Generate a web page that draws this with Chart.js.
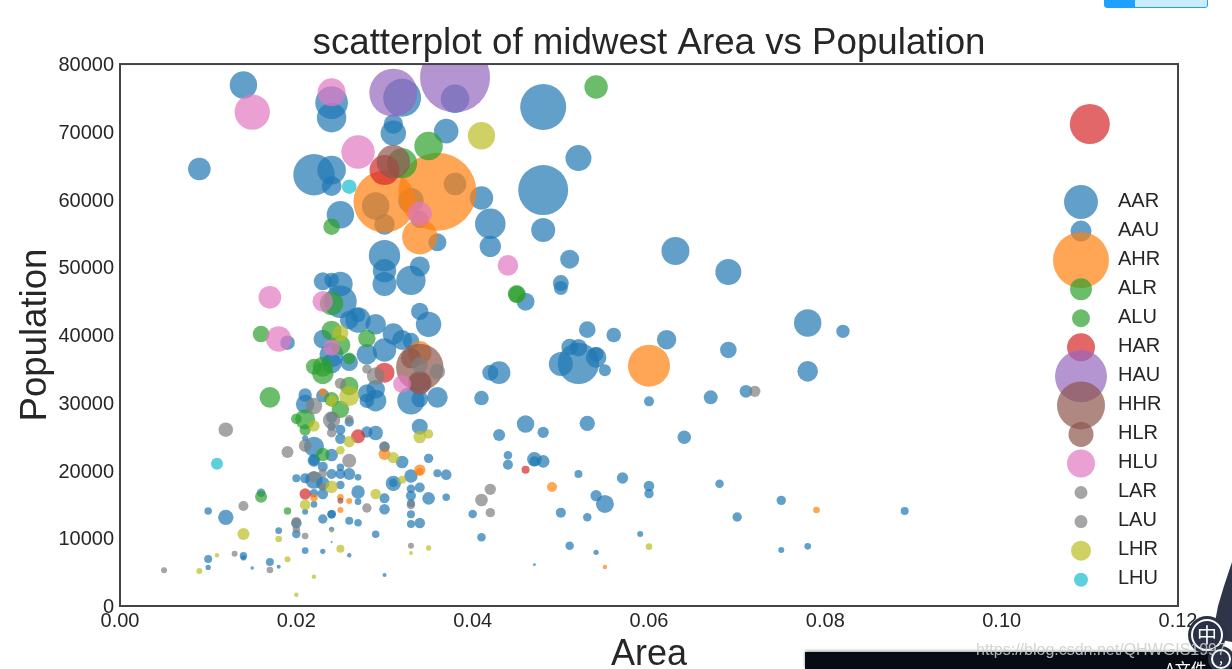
<!DOCTYPE html>
<html>
<head>
<meta charset="utf-8">
<title>scatterplot of midwest Area vs Population</title>
<script src="https://cdn.jsdelivr.net/npm/chart.js@4"></script>
<style>
  html, body { margin: 0; background: #fff; overflow: hidden; }
  #wrap { position: relative; width: 1232px; height: 669px; overflow: hidden; }
  #midwestChart { position: absolute; left: 0; top: 0; }
  /* things from the screenshot that sit on top of the chart */
  .badge { position: absolute; left: 1104px; top: -6px; width: 104px; height: 14px; border-radius: 3px; background: #c9ecff; border: 1px solid #1ea0ff; box-sizing: border-box; }
  .badge i { position: absolute; left: 0; top: 0; width: 30px; height: 100%; background: #1ea0ff; }
  .bar { position: absolute; left: 805px; top: 652px; width: 427px; height: 17px; background: #060b14; box-shadow: 0 -1px 3px #999; color: #fff; font: 16px "Noto Sans CJK SC"; }
  .bar span { position: absolute; left: 360px; top: 6px; line-height: 20px; }
  .mark { position: absolute; left: 976px; top: 641px; color: rgba(205, 205, 205, 0.85); font: 16px "Liberation Sans"; white-space: nowrap; }
  .round { position: absolute; border-radius: 50%; background: #2b3245; border: 2px solid #fff; box-shadow: 0 0 0 3px #2b3245; color: #fff; text-align: center; box-sizing: border-box; font-family: "Noto Sans CJK SC"; }
  .mascot { position: absolute; left: 1212px; top: 562px; width: 20px; height: 80px; background: #2f3448; clip-path: polygon(100% 0, 60% 30%, 30% 55%, 0 95%, 100% 100%); }
</style>
</head>
<body>
<div id="wrap">
  <canvas id="midwestChart" width="1232" height="669"></canvas>
  <div class="badge"><i></i></div>
  <div class="mascot"></div>
  <div class="bar"><span>A文件</span></div>
  <div class="round" style="left:1191px;top:619px;width:32px;height:32px;font-size:20px;line-height:27px">中</div>
  <div class="round" style="left:1211px;top:649px;width:20px;height:20px;font-size:14px;line-height:12px">,</div>
  <div class="mark">https://blog.csdn.net/QHWGIS1997</div>
</div>
<script>
const categories = ['AAR', 'AAU', 'AHR', 'ALR', 'ALU', 'HAR', 'HAU', 'HHR', 'HLR', 'HLU', 'LAR', 'LAU', 'LHR', 'LHU'];
const categoryColors = ['#1f77b4', '#1f77b4', '#ff7f0e', '#2ca02c', '#2ca02c', '#d62728', '#9467bd', '#8c564b', '#8c564b', '#e377c2', '#7f7f7f', '#7f7f7f', '#bcbd22', '#17becf'];
const legendDotSizes = [289, 110, 784, 121, 81, 196, 676, 576, 156, 196, 42, 42, 100, 49];

const xTicks = [0, 0.02, 0.04, 0.06, 0.08, 0.10, 0.12];
const yTicks = [0, 10000, 20000, 30000, 40000, 50000, 60000, 70000, 80000];

// area, population and dot size per category
const areaAAR = [0.014, 0.009, 0.024, 0.024, 0.032, 0.031, 0.031, 0.037, 0.022, 0.024, 0.024, 0.025, 0.038, 0.041, 0.042, 0.042, 0.036, 0.030, 0.030, 0.030, 0.034, 0.033, 0.025, 0.025, 0.035, 0.029, 0.027, 0.026, 0.031, 0.032, 0.023, 0.028, 0.030, 0.024, 0.024, 0.029, 0.029, 0.033, 0.036, 0.043, 0.021, 0.022, 0.052, 0.050, 0.054, 0.062, 0.078, 0.078, 0.046, 0.055, 0.048, 0.052, 0.048, 0.048, 0.063, 0.069, 0.051, 0.029, 0.038, 0.033, 0.030, 0.034];
const popAAR = [76900, 64500, 74300, 72080, 75030, 71140, 69800, 70100, 63660, 64350, 62000, 57760, 74880, 60220, 56430, 53090, 53680, 51710, 49500, 47530, 50130, 48070, 47530, 44920, 41580, 41580, 42210, 42210, 40150, 39260, 39400, 37150, 37780, 37050, 35800, 31980, 30300, 30300, 30800, 34440, 29800, 23520, 35820, 35720, 36700, 39310, 41770, 34640, 44920, 15060, 73650, 66120, 61400, 55500, 52400, 49300, 51200, 59040, 62290, 59830, 56330, 57070];
const sizeAAR = [188, 128, 266, 216, 361, 94, 161, 151, 428, 204, 100, 188, 204, 137, 234, 114, 81, 246, 137, 144, 100, 216, 151, 266, 161, 106, 161, 86, 114, 100, 86, 106, 137, 144, 100, 86, 114, 188, 106, 128, 86, 100, 428, 144, 106, 94, 188, 106, 81, 81, 529, 169, 625, 144, 196, 169, 90, 188, 128, 161, 106, 76];

const areaAAU = [0.033, 0.034, 0.023, 0.024, 0.027, 0.019, 0.026, 0.028, 0.028, 0.034, 0.041, 0.042, 0.021, 0.023, 0.034, 0.026, 0.024, 0.024, 0.025, 0.025, 0.029, 0.028, 0.021, 0.043, 0.024, 0.022, 0.022, 0.023, 0.025, 0.024, 0.025, 0.026, 0.027, 0.020, 0.021, 0.022, 0.023, 0.025, 0.022, 0.023, 0.027, 0.027, 0.030, 0.030, 0.022, 0.021, 0.024, 0.024, 0.023, 0.020, 0.020, 0.018, 0.016, 0.010, 0.012, 0.026, 0.027, 0.024, 0.029, 0.031, 0.031, 0.032, 0.030, 0.033, 0.035, 0.036, 0.037, 0.033, 0.034, 0.033, 0.035, 0.037, 0.033, 0.033, 0.033, 0.034, 0.040, 0.041, 0.044, 0.044, 0.014, 0.014, 0.010, 0.010, 0.017, 0.018, 0.015, 0.021, 0.023, 0.024, 0.026, 0.030, 0.053, 0.056, 0.051, 0.052, 0.054, 0.055, 0.071, 0.067, 0.060, 0.082, 0.046, 0.048, 0.053, 0.064, 0.047, 0.047, 0.048, 0.052, 0.057, 0.060, 0.060, 0.054, 0.050, 0.053, 0.068, 0.075, 0.070, 0.089, 0.059, 0.051, 0.054, 0.075, 0.078, 0.047, 0.050, 0.050, 0.069];
const popAAU = [39100, 43490, 47920, 48120, 42950, 38870, 35970, 31390, 30300, 30550, 30700, 34440, 31150, 31050, 26470, 27160, 27850, 26470, 26020, 24700, 25540, 25680, 24750, 25240, 22290, 21500, 21500, 20570, 20470, 19480, 19480, 19480, 18990, 18840, 18840, 18600, 18100, 17860, 16630, 16530, 16820, 15400, 15890, 14270, 15000, 13920, 13530, 13530, 12840, 12200, 10630, 11120, 16730, 14020, 13090, 12590, 12300, 11320, 10580, 18100, 18200, 21260, 23520, 19190, 21800, 19580, 19390, 17320, 17500, 16280, 15890, 16040, 15150, 13530, 12100, 12250, 13580, 10140, 22240, 20860, 7430, 7090, 6940, 5700, 6500, 5800, 5610, 8170, 8070, 9450, 7480, 4570, 40790, 40000, 38230, 38130, 37150, 34790, 31690, 30800, 30210, 40540, 26860, 25630, 26960, 24900, 21650, 21350, 21350, 19480, 18890, 17710, 16580, 16290, 13780, 13090, 18050, 15600, 13140, 14020, 10630, 8900, 7920, 8270, 8810, 6100, 47670, 46940, 37790];
const sizeAAU = [69, 76, 81, 53, 53, 53, 76, 81, 53, 69, 53, 64, 45, 45, 64, 22, 32, 18, 25, 28, 53, 32, 9, 36, 40, 40, 28, 25, 14, 25, 25, 36, 11, 16, 25, 76, 45, 18, 18, 28, 45, 11, 25, 28, 11, 9, 18, 18, 22, 28, 18, 11, 18, 14, 59, 16, 14, 7, 14, 59, 18, 40, 28, 45, 22, 16, 28, 18, 25, 25, 40, 14, 16, 16, 16, 28, 18, 18, 18, 25, 14, 7, 16, 7, 16, 4, 3, 11, 7, 1, 5, 4, 69, 53, 69, 76, 53, 36, 40, 49, 25, 45, 76, 32, 59, 45, 53, 25, 40, 16, 32, 28, 22, 32, 25, 18, 18, 22, 22, 16, 9, 18, 7, 9, 11, 2, 64, 49, 69];

const areaAHR = [0.036, 0.030, 0.034, 0.034, 0.060, 0.030, 0.034, 0.034, 0.023, 0.022, 0.025, 0.026, 0.025, 0.049, 0.079, 0.055];
const popAHR = [61150, 59680, 54510, 37390, 35470, 22440, 20070, 19830, 31540, 15990, 16040, 15500, 14170, 17570, 14170, 5760];
const sizeAHR = [1521, 961, 313, 137, 441, 36, 32, 14, 16, 14, 11, 9, 9, 25, 11, 5];

const areaALR = [0.054, 0.035, 0.032, 0.024, 0.045, 0.045, 0.028, 0.016, 0.024, 0.025, 0.023, 0.023, 0.017, 0.026];
const popALR = [76600, 67900, 65340, 44670, 46050, 46000, 39500, 40150, 40640, 38520, 35330, 34340, 30800, 32470];
const sizeALR = [137, 204, 225, 137, 81, 69, 76, 69, 100, 100, 100, 114, 106, 86];

const areaALU = [0.024, 0.026, 0.022, 0.024, 0.025, 0.020, 0.021, 0.021, 0.023, 0.016, 0.019];
const popALU = [55990, 36550, 35330, 30500, 29030, 27650, 27550, 25980, 22380, 16140, 14020];
const sizeALU = [69, 36, 64, 53, 76, 28, 100, 32, 45, 36, 14];

const areaHAR = [0.110, 0.030, 0.030, 0.027, 0.021, 0.046];
const popHAR = [71140, 64350, 34440, 25040, 16530, 20120];
const sizeHAR = [400, 225, 100, 49, 32, 16];

const areaHAU = [0.038, 0.031, 0.034];
const popHAU = [78030, 75770, 32870];
const sizeHAU = [1225, 576, 121];

const areaHHR = [0.034];
const popHHR = [35230];
const sizeHHR = [562];

const areaHLR = [0.031, 0.034, 0.033, 0.025];
const popHLR = [65580, 32960, 36560, 15550];
const sizeHLR = [279, 137, 100, 9];

const areaHLU = [0.015, 0.024, 0.027, 0.034, 0.044, 0.017, 0.023, 0.018, 0.024, 0.032];
const popHLU = [72910, 75820, 67010, 57910, 50280, 45560, 44970, 39410, 38130, 32770];
const sizeHLU = [313, 196, 279, 144, 106, 128, 106, 161, 69, 81];

const areaLAR = [0.012, 0.019, 0.022, 0.024, 0.021, 0.025, 0.028, 0.029, 0.034, 0.036, 0.026, 0.024, 0.030, 0.026, 0.072];
const popLAR = [26030, 22730, 29520, 27450, 23670, 32870, 34980, 33950, 35570, 34590, 27550, 25580, 23520, 21450, 31690];
const sizeLAR = [53, 36, 69, 76, 40, 32, 22, 76, 64, 59, 18, 22, 25, 49, 32];

const areaLAU = [0.023, 0.022, 0.023, 0.014, 0.028, 0.033, 0.020, 0.020, 0.021, 0.041, 0.042, 0.042, 0.033, 0.013, 0.005, 0.017];
const popLAU = [19580, 19090, 17610, 14760, 14470, 14910, 12450, 11320, 10330, 15650, 17220, 13780, 8900, 7720, 5260, 5310];
const sizeLAU = [18, 32, 16, 25, 22, 18, 22, 14, 11, 40, 32, 22, 9, 9, 9, 11];

const areaLHR = [0.041, 0.025, 0.026, 0.024, 0.022, 0.026, 0.025, 0.034, 0.035, 0.031, 0.032, 0.024, 0.029, 0.021, 0.014, 0.018, 0.024, 0.025, 0.035, 0.033, 0.019, 0.011, 0.009, 0.022, 0.020, 0.060];
const popLHR = [69420, 40250, 30990, 30310, 26570, 24250, 22980, 24950, 25390, 21890, 18650, 17600, 16530, 14960, 10630, 9890, 11070, 8460, 8560, 7820, 6890, 7480, 5170, 4330, 1670, 8760];
const sizeLHR = [188, 64, 100, 32, 32, 32, 18, 40, 22, 32, 16, 40, 28, 28, 36, 11, 3, 16, 7, 4, 9, 5, 9, 5, 5, 11];

const areaLHU = [0.026, 0.011];
const popLHU = [61900, 21010];
const sizeLHU = [53, 36];

const seriesAreas = [areaAAR, areaAAU, areaAHR, areaALR, areaALU, areaHAR, areaHAU, areaHHR, areaHLR, areaHLU, areaLAR, areaLAU, areaLHR, areaLHU];
const seriesPops = [popAAR, popAAU, popAHR, popALR, popALU, popHAR, popHAU, popHHR, popHLR, popHLU, popLAR, popLAU, popLHR, popLHU];
const seriesSizes = [sizeAAR, sizeAAU, sizeAHR, sizeALR, sizeALU, sizeHAR, sizeHAU, sizeHHR, sizeHLR, sizeHLU, sizeLAR, sizeLAU, sizeLHR, sizeLHU];

const fontName = '"Liberation Sans", Arial, sans-serif';
const textColor = '#262626';

function withAlpha(hex) {
  return hex + 'b3'; // 0.7 alpha
}

// later categories have to be painted over the earlier ones, so the order runs backwards
const datasets = categories.map((name, i) => ({
  label: name,
  data: seriesAreas[i].map((x, j) => ({ x: x, y: seriesPops[i][j], r: Math.sqrt(seriesSizes[i][j]) })),
  backgroundColor: withAlpha(categoryColors[i]),
  borderWidth: 0,
  clip: 0,
  order: categories.length - i
}));

const plotFrame = {
  id: 'plotFrame',
  afterDatasetsDraw(chart) {
    const a = chart.chartArea;
    const c = chart.ctx;
    c.save();
    c.strokeStyle = '#444';
    c.lineWidth = 2;
    c.strokeRect(a.left, a.top, a.width, a.height);
    c.restore();
  }
};

// the legend of the original has overlapping big dots, the built in one can't space them like that
const sideLegend = {
  id: 'sideLegend',
  afterDraw(chart) {
    const c = chart.ctx;
    const a = chart.chartArea;
    const dotX = a.right - 97;
    c.save();
    c.font = '20px ' + fontName;
    c.textBaseline = 'middle';
    categories.forEach((name, i) => {
      const y = a.top + 138 + i * 29.05;
      c.beginPath();
      c.arc(dotX, y, Math.sqrt(legendDotSizes[i]), 0, Math.PI * 2);
      c.fillStyle = withAlpha(categoryColors[i]);
      c.fill();
      c.fillStyle = textColor;
      c.fillText(name, dotX + 37, y - 1);
    });
    c.restore();
  }
};

new Chart(document.getElementById('midwestChart').getContext('2d'), {
  type: 'bubble',
  data: { datasets: datasets },
  plugins: [plotFrame, sideLegend],
  options: {
    responsive: false,
    animation: false,
    layout: { padding: { left: 0, right: 54, top: 0, bottom: 0 } },
    plugins: {
      legend: { display: false },
      tooltip: { enabled: false },
      title: {
        display: true,
        fullSize: false,
        text: 'scatterplot of midwest Area vs Population',
        color: textColor,
        font: { family: fontName, size: 36.7, weight: 'normal' },
        padding: { top: 22, bottom: -2 }
      }
    },
    scales: {
      x: {
        type: 'linear',
        min: 0,
        max: 0.12,
        afterBuildTicks: axis => { axis.ticks = xTicks.map(v => ({ value: v })); },
        afterFit: axis => { axis.height = 63; },
        grid: { display: false, drawTicks: false },
        border: { display: false },
        ticks: {
          padding: 3,
          maxRotation: 0,
          color: textColor,
          font: { family: fontName, size: 20 },
          callback: value => value.toFixed(2)
        },
        title: {
          display: true,
          text: 'Area',
          color: textColor,
          font: { family: fontName, size: 36, lineHeight: 1 },
          padding: { top: 0, bottom: -4 }
        }
      },
      y: {
        type: 'linear',
        min: 0,
        max: 80000,
        afterBuildTicks: axis => { axis.ticks = yTicks.map(v => ({ value: v })); },
        afterFit: axis => { axis.width = 120; },
        grid: { display: false, drawTicks: false },
        border: { display: false },
        ticks: {
          padding: 6,
          labelOffset: 1.5,
          color: textColor,
          font: { family: fontName, size: 20 },
          callback: value => String(value)
        },
        title: {
          display: true,
          text: 'Population',
          color: textColor,
          font: { family: fontName, size: 36.6, lineHeight: 1 },
          padding: { top: 17.6, bottom: 0 }
        }
      }
    }
  }
});
</script>
</body>
</html>
